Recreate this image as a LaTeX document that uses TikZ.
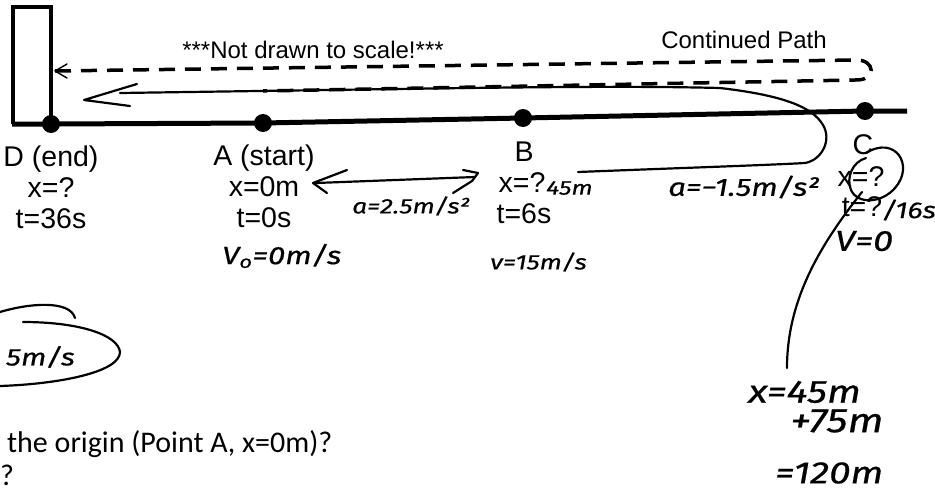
\documentclass[tikz,border=0pt]{standalone}
\usepackage{fontspec}
\setmainfont{Liberation Sans}
\newfontfamily\calib{Carlito}
\newfontfamily\hand{Fira Sans}[FakeStretch=1.25, FakeBold=0.5]
\usetikzlibrary{arrows.meta}
\tikzset{
  lbl/.style={font=\fontsize{28.5}{30}\selectfont, inner sep=0pt, anchor=base},
  head/.style={font=\fontsize{24}{26}\selectfont, inner sep=0pt, anchor=base},
  hw/.style={font={\hand\itshape\fontsize{#1}{#1}\selectfont}, inner sep=0pt, anchor=west},
  pen/.style={line width=2.2pt, line cap=round, line join=round},
  thinpen/.style={line width=1.4pt, line cap=round, line join=round},
  dot/.style={circle, fill=black, minimum size=18pt, inner sep=0pt},
  axisline/.style={line width=5pt},
  boxline/.style={line width=4.5pt, line join=miter},
  dsh/.style={line width=3.5pt, dash pattern=on 16pt off 10pt},
  qtext/.style={font=\calib\fontsize{30}{32}\selectfont, inner sep=0pt, anchor=base west}
}
\begin{document}
\begin{tikzpicture}[x=1pt,y=-1pt]
\useasboundingbox (0,0) rectangle (935,493);
\fill[white] (0,0) rectangle (935,493);

% main line and points
\coordinate (L0) at (12,124.2);
\coordinate (L1) at (907,111);
\node[dot] (D) at (51,124) {};
\node[dot] (A) at (263,123) {};
\node[dot] (B) at (523,118) {};
\node[dot] (C) at (865,111) {};
\draw[axisline] (L0) -- (D.center) -- (A.center) -- (B.center) -- (C.center) -- (L1);

% wall box at D
\coordinate (R1) at (51,7);
\coordinate (R2) at (13,7);
\coordinate (R3) at (13,124.2);
\draw[boxline] (D.center) -- (R1) -- (R2) -- (R3);

% dashed continued path
\coordinate (u0) at (55,71);
\coordinate (u1) at (855,60);
\coordinate (l1) at (855,80);
\coordinate (l0) at (263,91);
\draw[dsh] (u0) -- (u1) .. controls (876,59) and (877,81) .. (l1) -- (l0);
\coordinate (ua) at (67,64);
\coordinate (ub) at (67,78);
\draw[thinpen] (ua) -- (u0) -- (ub);

% headings
\node[head] (nd) at (313,58) {***Not drawn to scale!***};
\node[head] (cp) at (744,48) {Continued Path};

% typed labels
\node[lbl] (d1) at (51,166) {D (end)};
\node[lbl] (d2) at (51,197) {x=?};
\node[lbl] (d3) at (51,228) {t=36s};
\node[lbl] (a1) at (264,165) {A (start)};
\node[lbl] (a2) at (264,196) {x=0m};
\node[lbl] (a3) at (264,227) {t=0s};
\node[lbl] (b1) at (524,161) {B};
\node[lbl] (b2) at (522,192) {x=?};
\node[lbl] (b3) at (524,223) {t=6s};
\node[lbl] (c1) at (863,154) {C};
\node[lbl] (c2) at (861,186) {x=?};
\node[lbl] (c3) at (862,216) {t=?};

% handwritten loop with arrow
\coordinate (h0) at (578,172);
\coordinate (h1) at (805,163);
\coordinate (h2) at (823,125);
\coordinate (h3) at (720,88);
\coordinate (h4) at (465,88);
\coordinate (h5) at (120,93);
\draw[pen] (h0) .. controls (680,168) and (770,165) .. (h1)
  .. controls (822,160) and (832,140) .. (h2)
  .. controls (812,106) and (780,95) .. (h3)
  .. controls (640,86) and (560,87) .. (h4) -- (h5);
\coordinate (ha1) at (137,84);
\coordinate (ha0) at (84,100);
\coordinate (ha2) at (130,106);
\draw[pen] (ha1) -- (ha0) -- (ha2);

% handwritten double arrow A-B
\coordinate (s0) at (316,183);
\coordinate (s1) at (475,177);
\draw[pen] (s0) -- (s1);
\draw[pen] (347,170) -- (313,183) -- (327,193);
\draw[pen] (463,170) -- (478,173) -- (472,181) -- (453,193);

% handwritten loop around C and long line
\draw[pen] (866,153) .. controls (895,135) and (915,165) .. (895,188)
  .. controls (882,203) and (858,205) .. (851,190)
  .. controls (846,178) and (852,162) .. (866,158);
\coordinate (m0) at (862,192);
\coordinate (m1) at (787,368);
\draw[pen] (m0) .. controls (820,245) and (787,300) .. (m1);

% circled speed at left
\draw[pen] (0,312) .. controls (30,303) and (70,300) .. (75,318);
\draw[pen] (0,386) .. controls (60,384) and (120,372) .. (120,352)
  .. controls (118,335) and (80,322) .. (23,322);

% handwritten notes
\node[hw=21] (na) at (352,206) {a=2.5m/s²};
\node[hw=25] (nv0) at (222,256) {V\textsubscript{o}=0m/s};
\node[hw=20] (n45) at (546,188) {45m};
\node[hw=21] (nv) at (490,262) {v=15m/s};
\node[hw=25] (nab) at (668,187) {a=−1.5m/s²};
\node[hw=23] (n16) at (882,210) {/16s};
\node[hw=29] (nvc) at (835,241) {V=0};
\node[hw=32] (nx) at (748,392) {x=45m};
\node[hw=34] (np) at (790,421) {+75m};
\node[hw=31] (neq) at (775,473) {=120m};
\node[hw=24, anchor=east] (n5) at (75,357) {5m/s};

% question text
\node[qtext] (q) at (7,452) {the origin (Point A, x=0m)?};
\node[qtext] (q2) at (0,485) {?};
\end{tikzpicture}
\end{document}
